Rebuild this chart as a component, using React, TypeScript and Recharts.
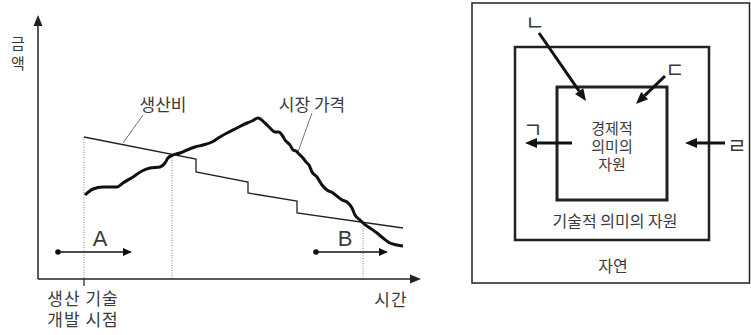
import { ComposedChart, Line, Scatter, XAxis, YAxis, ReferenceLine, ReferenceArea } from 'recharts';

// ---------- left panel: x = 시간, y = 금액 (origin at the axis corner)
const costCurve = [
  { x: 46, y: 142 }, { x: 158, y: 120 }, { x: 158, y: 107 }, { x: 210, y: 97 },
  { x: 210, y: 86 }, { x: 259, y: 78 }, { x: 259, y: 66 }, { x: 365, y: 51 },
];

const priceCurve = [
  { x: 47, y: 84 }, { x: 55, y: 90 }, { x: 65, y: 92 }, { x: 79, y: 92 }, { x: 85, y: 96 },
  { x: 95, y: 102 }, { x: 104, y: 108 }, { x: 112, y: 111 }, { x: 122, y: 112 }, { x: 127, y: 116 },
  { x: 130, y: 121 }, { x: 135, y: 124 }, { x: 142, y: 126 }, { x: 149, y: 129 }, { x: 157, y: 132 },
  { x: 165, y: 134 }, { x: 174, y: 137 }, { x: 182, y: 142 }, { x: 189, y: 146 }, { x: 199, y: 151 },
  { x: 209, y: 156 }, { x: 214, y: 158 }, { x: 220, y: 161 }, { x: 227, y: 156 }, { x: 232, y: 151 },
  { x: 237, y: 147 }, { x: 241, y: 147 }, { x: 244, y: 144 }, { x: 247, y: 139 }, { x: 252, y: 134 },
  { x: 255, y: 129 }, { x: 258, y: 128 }, { x: 260, y: 126 }, { x: 265, y: 121 }, { x: 268, y: 117 },
  { x: 271, y: 114 }, { x: 274, y: 107 }, { x: 279, y: 102 }, { x: 284, y: 94 }, { x: 289, y: 89 },
  { x: 295, y: 86 }, { x: 300, y: 82 }, { x: 304, y: 79 }, { x: 309, y: 77 }, { x: 314, y: 71 },
  { x: 317, y: 64 }, { x: 322, y: 59 }, { x: 325, y: 56 }, { x: 332, y: 51 }, { x: 339, y: 46 },
  { x: 345, y: 41 }, { x: 352, y: 36 }, { x: 359, y: 34 }, { x: 365, y: 33 },
];

// 생산 기술 개발 시점, first crossing, second crossing
const markTimes = [{ x: 46, y: 142 }, { x: 134, y: 124 }, { x: 325, y: 56 }];
const spans = [
  { from: 20, to: 94, y: 27 },
  { from: 278, to: 350, y: 27 },
];
const leaders = [
  { from: { x: 105, y: 164 }, to: { x: 85, y: 136 } },
  { from: { x: 274, y: 166 }, to: { x: 260, y: 127 } },
];
const curveNames = [
  { x: 125, y: 176, text: '생산비' },
  { x: 274, y: 176, text: '시장 가격' },
];
const spanNames = [
  { x: 62, y: 41, text: 'A' },
  { x: 307, y: 41, text: 'B' },
];
const yName = [
  { x: -20, y: 237, text: '금' },
  { x: -20, y: 217, text: '액' },
];
const xNames = [
  { x: 45, y: -18, text: '생산 기술' },
  { x: 45, y: -39, text: '개발 시점' },
  { x: 353, y: -19, text: '시간' },
];

// ---------- right panel (y grows downward)
const boxes = [
  { x1: 12, x2: 289.5, y1: 3, y2: 283 },
  { x1: 55, x2: 249, y1: 47, y2: 240 },
  { x1: 97, x2: 207, y1: 87, y2: 200 },
];
const boxWidths = [1.5, 2.5, 3];
const flows = [
  { from: { x: 79, y: 33 }, to: { x: 126, y: 101 } },
  { from: { x: 205, y: 76 }, to: { x: 176, y: 104 } },
  { from: { x: 112, y: 143 }, to: { x: 65, y: 143 } },
  { from: { x: 265, y: 143 }, to: { x: 225, y: 143 } },
];
const flowNames = [
  { x: 75, y: 21, text: 'ㄴ' },
  { x: 215, y: 68, text: 'ㄷ' },
  { x: 73, y: 128, text: 'ㄱ' },
  { x: 277, y: 144, text: 'ㄹ' },
];
const innerNames = [
  { x: 152, y: 127, text: '경제적' },
  { x: 152, y: 145, text: '의미의' },
  { x: 152, y: 163, text: '자원' },
];
const outerNames = [
  { x: 155, y: 220, text: '기술적 의미의 자원' },
  { x: 153, y: 265, text: '자연' },
];

const KR = '"Noto Sans CJK KR", "Noto Sans", sans-serif';
const INK = '#222';
const TEXT = '#3a3a3a';

function arrow(head: number, half: number, dot = 0) {
  return (p: any) => {
    const { x1, y1, x2, y2, stroke, strokeWidth } = p;
    const a = Math.atan2(y2 - y1, x2 - x1);
    const bx = x2 - head * Math.cos(a);
    const by = y2 - head * Math.sin(a);
    const nx = -Math.sin(a) * half;
    const ny = Math.cos(a) * half;
    return (
      <g>
        <line x1={x1} y1={y1} x2={bx} y2={by} stroke={stroke} strokeWidth={strokeWidth} />
        <polygon points={`${x2},${y2} ${bx + nx},${by + ny} ${bx - nx},${by - ny}`} fill={stroke} />
        {dot > 0 && <circle cx={x1} cy={y1} r={dot} fill={stroke} />}
      </g>
    );
  };
}

function textMark(size: number, family = KR, spacing = 0) {
  return (p: any) => (
    <text
      x={p.cx}
      y={p.cy}
      textAnchor="middle"
      dominantBaseline="central"
      fontSize={size}
      fontFamily={family}
      letterSpacing={spacing}
      fill={TEXT}
    >
      {p.payload.text}
    </text>
  );
}

function LeftPanel() {
  return (
    <ComposedChart width={440} height={335} margin={{ top: 0, right: 0, bottom: 0, left: 0 }}>
      <XAxis type="number" dataKey="x" domain={[-38, 402]} hide allowDataOverflow />
      <YAxis type="number" dataKey="y" domain={[-56, 279]} hide allowDataOverflow />

      {markTimes.map((m, i) => (
        <ReferenceLine
          key={`m-${i}`}
          segment={[{ x: m.x, y: m.y }, { x: m.x, y: 0 }]}
          stroke="#888"
          strokeWidth={1}
          strokeDasharray="1 1.5"
          ifOverflow="visible"
        />
      ))}
      <ReferenceLine
        segment={[{ x: markTimes[0].x, y: 0 }, { x: markTimes[0].x, y: -7 }]}
        stroke={INK}
        strokeWidth={1.2}
        ifOverflow="visible"
      />

      {/* axes */}
      <ReferenceLine segment={[{ x: 0, y: 0 }, { x: 0, y: 264 }]} stroke={INK} strokeWidth={1.5}
        ifOverflow="visible" shape={arrow(11, 4.5)} />
      <ReferenceLine segment={[{ x: 0, y: 0 }, { x: 383, y: 0 }]} stroke={INK} strokeWidth={1.5}
        ifOverflow="visible" shape={arrow(11, 4.5)} />

      {leaders.map((l, i) => (
        <ReferenceLine key={`l-${i}`} segment={[l.from, l.to]} stroke="#666" strokeWidth={0.9} ifOverflow="visible" />
      ))}

      <Line data={costCurve} dataKey="y" type="linear" stroke={INK} strokeWidth={1.3}
        dot={false} activeDot={false} isAnimationActive={false} />
      <Line data={priceCurve} dataKey="y" type="monotone" stroke="#111" strokeWidth={3}
        strokeLinejoin="round" dot={false} activeDot={false} isAnimationActive={false} />

      {spans.map((s, i) => (
        <ReferenceLine key={`s-${i}`} segment={[{ x: s.from, y: s.y }, { x: s.to, y: s.y }]}
          stroke="#111" strokeWidth={1.4} ifOverflow="visible" shape={arrow(9, 4, 2.8)} />
      ))}

      <Scatter data={curveNames} shape={textMark(17)} isAnimationActive={false} />
      <Scatter data={spanNames} shape={textMark(22, '"Liberation Sans", Arial, sans-serif')} isAnimationActive={false} />
      <Scatter data={yName} shape={textMark(15)} isAnimationActive={false} />
      <Scatter data={xNames} shape={textMark(17, KR, 1)} isAnimationActive={false} />
    </ComposedChart>
  );
}

function RightPanel() {
  return (
    <ComposedChart width={291} height={335} margin={{ top: 0, right: 0, bottom: 0, left: 0 }}>
      <XAxis type="number" dataKey="x" domain={[0, 291]} hide allowDataOverflow />
      <YAxis type="number" dataKey="y" domain={[0, 335]} reversed hide allowDataOverflow />

      {boxes.map((b, i) => (
        <ReferenceArea key={`b-${i}`} x1={b.x1} x2={b.x2} y1={b.y1} y2={b.y2}
          fill="none" stroke={INK} strokeWidth={boxWidths[i]} ifOverflow="visible" />
      ))}

      {flows.map((f, i) => (
        <ReferenceLine key={`f-${i}`} segment={[f.from, f.to]} stroke="#111" strokeWidth={3}
          ifOverflow="visible" shape={arrow(12, 5)} />
      ))}

      <Scatter data={flowNames} shape={textMark(21)} isAnimationActive={false} />
      <Scatter data={innerNames} shape={textMark(15)} isAnimationActive={false} />
      <Scatter data={outerNames} shape={textMark(16)} isAnimationActive={false} />
    </ComposedChart>
  );
}

export default function App() {
  return (
    <div style={{ position: 'absolute', left: 0, top: 0, width: 751, height: 335, background: '#fff' }}>
      <div style={{ position: 'absolute', left: 0, top: 0 }}>
        <LeftPanel />
      </div>
      <div style={{ position: 'absolute', left: 460, top: 0 }}>
        <RightPanel />
      </div>
    </div>
  );
}
